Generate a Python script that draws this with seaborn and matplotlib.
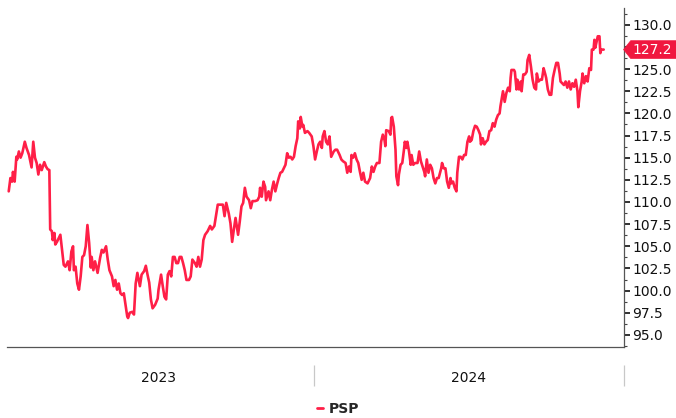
import pandas as pd
import matplotlib
matplotlib.use("Agg")
import matplotlib.pyplot as plt
import matplotlib.dates as mdates
from matplotlib.lines import Line2D
from matplotlib.path import Path
from matplotlib.ticker import MultipleLocator, FuncFormatter, NullFormatter
import seaborn as sns

DAYS = [
    4, 6, 8, 9, 11, 13, 14, 16, 18, 20, 23, 25, 28, 31, 33, 35, 37, 39, 41, 43,
    46, 48, 50, 52, 53, 55, 56, 58, 59, 61, 65, 67, 69, 71, 74, 76, 78, 80, 81, 83,
    85, 87, 89, 91, 93, 95, 97, 99, 101, 102, 104, 106, 109, 112, 114, 116, 119, 121, 123, 126,
    128, 130, 132, 134, 136, 138, 140, 142, 144, 145, 147, 150, 152, 154, 156, 159, 161, 164, 166, 168,
    170, 172, 174, 177, 180, 181, 184, 186, 188, 190, 192, 194, 196, 198, 200, 202, 204, 206, 208, 210,
    212, 214, 217, 219, 221, 224, 226, 228, 230, 232, 234, 236, 239, 242, 244, 247, 249, 251, 254, 257,
    259, 261, 264, 266, 268, 270, 272, 275, 277, 279, 281, 283, 285, 288, 290, 292, 295, 298, 300, 301,
    303, 305, 307, 308, 311, 313, 315, 317, 319, 321, 323, 325, 327, 329, 331, 333, 335, 337, 339, 341,
    343, 345, 346, 348, 349, 351, 352, 354, 357, 359, 362, 364, 366, 368, 370, 372, 374, 375, 377, 379,
    381, 383, 385, 388, 390, 392, 395, 397, 399, 402, 404, 406, 408, 409, 411, 413, 415, 417, 419, 421,
    423, 425, 428, 431, 433, 435, 437, 439, 442, 444, 446, 448, 449, 450, 453, 455, 456, 457, 459, 461,
    462, 464, 465, 467, 469, 471, 472, 474, 475, 477, 479, 480, 482, 484, 487, 489, 491, 493, 495, 496,
    498, 500, 502, 504, 506, 508, 510, 512, 515, 516, 518, 520, 522, 524, 526, 527, 529, 531, 533, 534,
    536, 538, 540, 542, 544, 546, 548, 549, 551, 553, 555, 557, 559, 561, 562, 564, 566, 568, 570, 572,
    574, 576, 578, 580, 582, 584, 585, 587, 588, 590, 592, 594, 596, 597, 598, 601, 602, 604, 605, 607,
    609, 610, 612, 614, 616, 617, 619, 621, 623, 625, 627, 628, 630, 632, 634, 636, 638, 639, 641, 643,
    645, 647, 649, 651, 653, 655, 656, 658, 660, 662, 664, 666, 668, 670, 672, 674, 676, 677, 679, 681,
    682, 684, 686, 688, 690, 692, 693, 695, 696, 697, 700, 702, 703, 704, 707,
]
PSP = [
    111.2, 112.7, 112.3, 113.4, 112.3, 115.1, 114.8, 115.7, 115.0, 115.5, 116.8, 116.1, 115.3, 113.9, 116.8, 115.0, 114.4, 113.1, 114.2, 113.6,
    114.5, 114.0, 113.7, 113.6, 106.9, 106.7, 105.7, 106.5, 105.2, 105.5, 106.3, 104.6, 102.9, 102.7, 103.3, 102.3, 104.4, 105.0, 102.3, 102.7,
    100.8, 100.1, 101.6, 103.8, 104.0, 105.0, 107.4, 105.4, 102.6, 103.8, 102.3, 103.3, 102.0, 103.7, 104.6, 104.3, 105.0, 103.5, 102.3, 101.6,
    100.5, 101.2, 100.1, 100.8, 99.7, 99.5, 99.7, 98.4, 97.1, 96.9, 97.5, 97.6, 97.3, 100.8, 102.0, 100.5, 101.8, 102.2, 102.8, 101.8,
    100.9, 99.0, 98.0, 98.4, 99.1, 100.1, 101.8, 100.5, 99.3, 99.0, 101.8, 102.2, 101.6, 103.8, 103.8, 103.1, 103.1, 103.8, 103.8, 103.1,
    102.3, 101.2, 101.2, 101.6, 103.5, 103.1, 102.7, 103.8, 102.7, 103.5, 105.7, 106.3, 106.7, 107.3, 106.9, 107.3, 108.5, 109.7, 109.7, 109.7,
    108.4, 109.9, 108.7, 107.6, 105.5, 106.9, 108.2, 106.3, 107.8, 109.5, 109.9, 111.6, 110.6, 110.2, 109.3, 110.1, 110.1, 110.2, 110.6, 111.6,
    110.6, 112.3, 111.7, 110.2, 111.2, 110.2, 111.4, 112.3, 111.2, 112.0, 112.7, 113.3, 113.4, 113.8, 114.2, 115.5, 115.0, 115.1, 114.8, 115.1,
    116.3, 117.2, 119.1, 118.3, 119.6, 118.5, 118.7, 117.8, 118.0, 117.8, 117.4, 116.3, 114.8, 115.7, 116.5, 116.8, 116.1, 117.4, 118.0, 116.8,
    116.5, 117.4, 115.1, 115.7, 115.9, 115.9, 115.3, 114.8, 114.6, 114.4, 113.3, 114.0, 113.4, 115.3, 115.0, 115.5, 114.8, 114.4, 113.4, 112.5,
    113.3, 112.3, 112.1, 112.7, 114.0, 113.4, 114.0, 114.4, 114.4, 116.8, 117.6, 117.0, 116.3, 118.1, 118.0, 117.6, 119.5, 119.6, 118.5, 115.9,
    112.9, 111.9, 113.1, 114.2, 114.4, 115.9, 116.8, 116.1, 116.8, 115.7, 114.2, 115.3, 114.2, 114.4, 114.4, 115.7, 114.6, 114.0, 113.4, 112.9,
    114.8, 113.3, 114.2, 113.8, 112.7, 112.1, 112.7, 112.7, 113.8, 114.4, 113.8, 113.8, 112.3, 111.6, 112.7, 112.1, 112.3, 111.6, 111.2, 113.3,
    115.1, 115.1, 114.8, 115.3, 115.3, 116.8, 117.4, 116.8, 117.0, 118.0, 118.6, 118.5, 118.1, 117.6, 116.5, 117.2, 116.5, 116.8, 117.0, 118.0,
    118.1, 118.9, 118.5, 119.3, 119.8, 120.0, 120.8, 121.9, 122.5, 121.3, 122.3, 122.9, 122.5, 124.0, 124.9, 124.9, 124.7, 122.7, 123.8, 122.7,
    123.6, 122.5, 124.4, 124.4, 124.7, 126.0, 126.6, 125.3, 123.8, 122.9, 122.7, 124.5, 123.6, 123.8, 123.8, 125.1, 124.4, 124.0, 122.7, 122.1,
    122.1, 124.0, 124.9, 125.7, 125.7, 124.5, 123.6, 123.4, 123.2, 123.6, 122.9, 123.6, 122.7, 123.4, 123.0, 123.8, 122.5, 120.7, 122.5, 123.6,
    124.5, 123.4, 124.2, 123.6, 125.1, 124.9, 127.2, 127.2, 128.3, 127.4, 128.7, 128.7, 126.8, 127.2, 127.2,
]
SERIES_NAME = "PSP"
START = "2023-01-01"

LINE_RED = "#ff1f47"
TAG_RED = "#f0173f"
AXIS_GREY = "#555555"


def tag_box(x0, y0, width, height, mutation_size):
    """Price-tag shaped box: rectangle with a pointed left side."""
    pad = 0.3 * mutation_size
    left = x0 - pad * 0.4
    right = x0 + width + pad * 3
    bottom = y0 - pad * 0.45
    top = y0 + height + pad * 0.45
    mid = (bottom + top) / 2
    tip = (top - bottom) / 2 * 0.8
    return Path([(left - tip, mid), (left, bottom), (right, bottom),
                 (right, top), (left, top), (left - tip, mid)], closed=True)


df = pd.DataFrame({
    "date": pd.Timestamp(START) + pd.to_timedelta(DAYS, unit="D"),
    SERIES_NAME: PSP,
})
last = PSP[-1]

sns.set_style("white")
plt.rcParams["font.family"] = ["DejaVu Sans"]

fig = plt.figure(figsize=(6.76, 4.18), dpi=100)
ax = fig.add_axes([0.0104, 0.170, 0.9127, 0.811])

sns.lineplot(data=df, x="date", y=SERIES_NAME, ax=ax, color=LINE_RED,
             linewidth=1.9, legend=False)

ax.set_xlim(pd.Timestamp("2023-01-03"), pd.Timestamp("2025-01-01"))
ax.set_ylim(93.64, 131.9)
ax.set_xlabel("")
ax.set_ylabel("")

for side in ["left", "top"]:
    ax.spines[side].set_visible(False)
for side in ["right", "bottom"]:
    ax.spines[side].set_color(AXIS_GREY)
    ax.spines[side].set_linewidth(0.9)

# right hand value axis
ax.yaxis.tick_right()
ax.yaxis.set_major_locator(MultipleLocator(2.5))
ax.yaxis.set_minor_locator(MultipleLocator(1.25))
ax.yaxis.set_major_formatter(FuncFormatter(
    lambda v, pos: "" if abs(v - last) < 1.2 else f"{v:.1f}"))
ax.tick_params(axis="y", which="major", direction="out", length=4, width=1.3,
               color="#222222", labelsize=10, pad=2, labelcolor="#111111")
ax.tick_params(axis="y", which="minor", direction="out", length=2, width=0.8,
               color="#444444")

# monthly ticks on the time axis
ax.xaxis.set_major_locator(mdates.MonthLocator())
ax.xaxis.set_major_formatter(NullFormatter())
ax.tick_params(axis="x", which="major", direction="out", length=3, width=0.8,
               color=AXIS_GREY)

# year band below: separators at year starts, labels at mid-year
years = ax.secondary_xaxis(-0.053)
years.spines["bottom"].set_visible(False)
years.xaxis.set_major_locator(mdates.YearLocator())
years.xaxis.set_major_formatter(NullFormatter())
years.xaxis.set_minor_locator(mdates.MonthLocator(bymonth=7))
years.xaxis.set_minor_formatter(mdates.DateFormatter("%Y"))
years.tick_params(which="major", length=15, width=0.9, color="#c8c8c8")
years.tick_params(which="minor", length=0, pad=4.5, labelsize=10,
                  labelcolor="#111111")

# last value tag on the value axis
ax.annotate(f"{last:.1f}", xy=(1.0, last), xycoords=("axes fraction", "data"),
            xytext=(6, 0), textcoords="offset points", ha="left", va="center",
            color="white", fontsize=10, annotation_clip=False, zorder=10,
            bbox=dict(boxstyle=tag_box, fc=TAG_RED, ec=TAG_RED, lw=0.5))

fig.legend(handles=[Line2D([], [], color=LINE_RED, lw=2)], labels=[SERIES_NAME],
           loc="lower center", bbox_to_anchor=(0.5, -0.025), frameon=False,
           handlelength=0.5, handletextpad=0.4,
           prop={"weight": "bold", "size": 10})

fig.savefig("out.png", dpi=100)
